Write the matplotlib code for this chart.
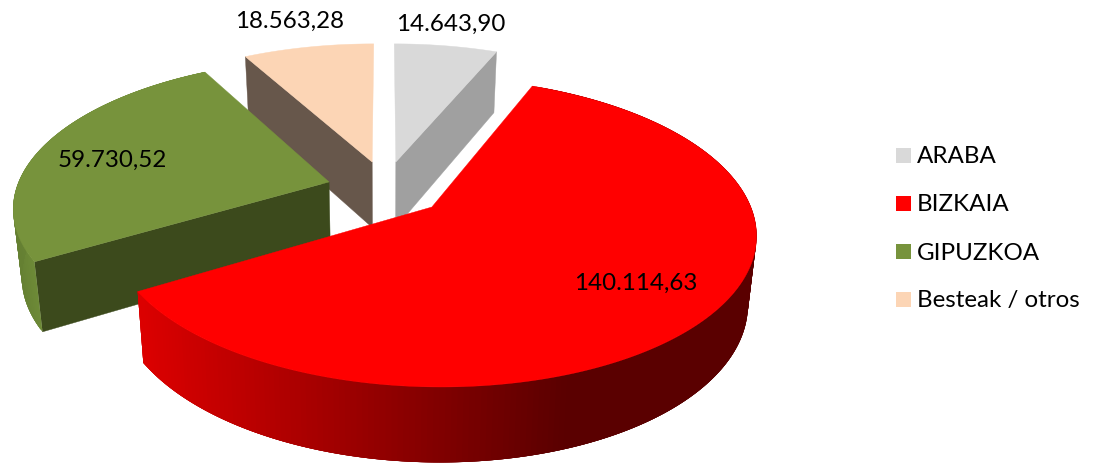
#!/usr/bin/env python3
"""Exploded 3D pie by territory, drawn with a small perspective projection."""

from __future__ import annotations

import matplotlib

matplotlib.use("Agg")
import matplotlib.pyplot as plt
import numpy as np
from matplotlib.collections import PolyCollection
from matplotlib.colors import to_rgb
from matplotlib.patches import Polygon, Rectangle

# data
categories = ["ARABA", "BIZKAIA", "GIPUZKOA", "Besteak / otros"]
values = [14643.90, 140114.63, 59730.52, 18563.28]

# styles, in category order
top_colors = ["#d9d9d9", "#ff0000", "#77933c", "#fcd5b5"]
cut_colors = ["#a0a0a0", "#c00000", "#3c4a1c", "#67574b"]
wall_left = ["#a0a0a0", "#dc0000", "#647f32", "#67574b"]
wall_right = ["#a0a0a0", "#5a0000", "#6f8c38", "#67574b"]

# layout: exploded offset of each slice in the pie plane, which faces show
offsets = [(0.039, 0.216), (0.150, -0.098), (-0.177, 0.073), (-0.039, 0.216)]
visible_cut = [-1, None, 0, 0]
has_wall = [False, True, True, False]
label_pos = [(451, 24), (636, 283), (112, 160), (290, 21)]
legend_y = [156.5, 204.5, 252.5, 300.5]
draw_order = [0, 3, 2, 1]

CX, CY = 384.0, 193.5
RX, RY = 314.0, 146.0
PERSPECTIVE = 0.16
FONT = ["Lato", "DejaVu Sans"]
FONT_SIZE = 17.4


def project(angle: np.ndarray, offset: tuple[float, float], radius: float, lower: bool) -> np.ndarray:
    px = offset[0] + radius * np.sin(angle)
    py = offset[1] + radius * np.cos(angle)
    s = 1.0 / (1.0 + PERSPECTIVE * py)
    x = RX * px * s
    y = CY - RY * py * s
    if lower:
        x = x * 0.977
        y = y + 40.0 * s + 27.0
    return np.column_stack([CX + x, y])


def blend(left: str, right: str, t: float) -> tuple[float, float, float]:
    a, b = np.array(to_rgb(left)), np.array(to_rgb(right))
    return tuple(a + (b - a) * t)


def draw_slice(ax, i: int, start: float, stop: float) -> None:
    angles = np.linspace(start, stop, 240)
    offset = offsets[i]
    top = project(angles, offset, 1.0, False)
    low = project(angles, offset, 1.0, True)
    apex_top = project(np.array([0.0]), offset, 0.0, False)
    apex_low = project(np.array([0.0]), offset, 0.0, True)

    if visible_cut[i] is not None:
        k = visible_cut[i]
        face = np.vstack([apex_top, top[k], low[k], apex_low])
        ax.add_patch(Polygon(face, closed=True, fc=cut_colors[i], ec=cut_colors[i], lw=0.3))

    if has_wall[i]:
        # overlapping strips without edges, so the gradient shows no seams
        quads = []
        colors = []
        x_min, x_max = 140.0, 570.0
        for j in range(0, len(angles) - 1):
            end = min(j + 4, len(angles) - 1)
            quads.append([top[j], top[end], low[end], low[j]])
            t = np.clip((top[j, 0] - x_min) / (x_max - x_min), 0.0, 1.0)
            if i == 2:
                t = np.clip((top[j, 0] - 12.0) / 25.0, 0.0, 1.0)
            colors.append(blend(wall_left[i], wall_right[i], t))
        ax.add_collection(PolyCollection(quads, facecolors=colors, edgecolors="none"))

    surface = np.vstack([apex_top, top])
    ax.add_patch(Polygon(surface, closed=True, fc=top_colors[i], ec=top_colors[i], lw=0.3))


def format_value(value: float) -> str:
    return f"{value:,.2f}".replace(",", "#").replace(".", ",").replace("#", ".")


def main() -> None:
    fig = plt.figure(figsize=(10.98, 4.64), dpi=100)
    ax = fig.add_axes([0, 0, 1, 1])
    ax.set_xlim(0, 1098)
    ax.set_ylim(464, 0)
    ax.axis("off")

    edges = np.concatenate([[0.0], np.cumsum(values)]) / sum(values) * 2.0 * np.pi
    for i in draw_order:
        draw_slice(ax, i, edges[i], edges[i + 1])

    for value, (x, y) in zip(values, label_pos):
        ax.text(x, y, format_value(value), ha="center", va="center", family=FONT,
                fontsize=FONT_SIZE, color="black")

    for name, color, y in zip(categories, top_colors, legend_y):
        ax.add_patch(Rectangle((896, y - 7.5), 15, 15, fc=color, ec="none"))
        ax.text(917, y + 0.5, name, ha="left", va="center", family=FONT, fontsize=FONT_SIZE,
                color="black")

    fig.savefig("out.png", dpi=100)
    plt.close(fig)


if __name__ == "__main__":
    main()
